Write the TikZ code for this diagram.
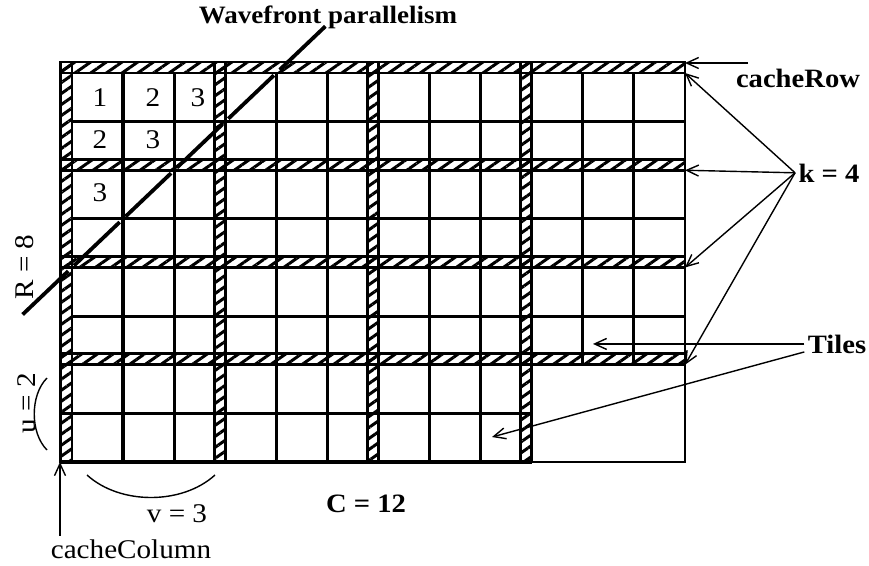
\documentclass[tikz,border=0pt]{standalone}
\usepackage{fontspec}
\setmainfont{Liberation Serif}[FakeStretch=1.08]
\usepackage{tikz}
\usetikzlibrary{arrows.meta,calc,patterns.meta}

\begin{document}
\begin{tikzpicture}[x=1pt, y=-1pt,
    gridline/.style={line width=3.2pt},
    hatchband/.style={draw, line width=2.6pt,
      pattern={Lines[angle=35,distance=9pt,line width=3pt]}},
    ptr/.style={-{Straight Barb[length=12pt,width=11pt]}, line width=1.4pt},
    lbl/.style={font=\fontsize{26.5}{30}\selectfont\bfseries},
    num/.style={font=\fontsize{27}{30}\selectfont},
    wavefront/.style={line width=3.8pt, dash pattern=on 63pt off 8pt}]
  \useasboundingbox (0,0) rectangle (869,565);
  \def\gx{72}  \def\gy{73}  \def\cw{51.08}  \def\rh{48.625}
  \def\gr{685} \def\gb{462}

  % outer frame
  \draw[line width=1.3pt] (60,62) rectangle (\gr,\gb);

  % cacheColumn / cacheRow bands
  \foreach \m in {0,...,3}
    \draw[hatchband] ({\gx+3*\m*\cw-11},62) rectangle ({\gx+3*\m*\cw},\gb);
  \foreach \n in {0,...,3} {
    \draw[hatchband] (60,{\gy+2*\n*\rh-11}) rectangle (\gr,{\gy+2*\n*\rh});
    \coordinate (kb\n) at (\gr,{\gy+2*\n*\rh});
  }

  % grid of C x R cells
  \foreach \i in {1,...,9}
    \draw[gridline] ({\gx+\i*\cw},\gy) -- ({\gx+\i*\cw},\gb);
  \foreach \i in {10,11}
    \draw[gridline] ({\gx+\i*\cw},\gy) -- ({\gx+\i*\cw},{\gy+6*\rh});
  \foreach \j in {1,...,6}
    \draw[gridline] (\gx,{\gy+\j*\rh}) -- (\gr,{\gy+\j*\rh});
  \foreach \j in {7,8}
    \draw[gridline] (60,{\gy+\j*\rh}) -- ({\gx+9*\cw},{\gy+\j*\rh});

  \coordinate (wA) at ({\gx+4*\cw},\gy);
  \coordinate (wB) at (\gx,{\gy+4*\rh});
  \coordinate (rowTail) at (748,63);
  \coordinate (rowEnd) at (\gr,63);
  \coordinate (colEnd) at (60,\gb);
  \coordinate (tileA) at (593,345);
  \coordinate (tileB) at (492,437);

  \draw[wavefront] ($(wA)!-0.24!(wB)$) -- ($(wB)!-0.245!(wA)$);

  % cell numbers
  \node[num] (c11) at (100,98) {1};
  \node[num] (c12) at (153,98) {2};
  \node[num] (c13) at (198,98) {3};
  \node[num] (c21) at (100,140) {2};
  \node[num] (c22) at (153,140) {3};
  \node[num] (c31) at (100,193) {3};

  % labels
  \node[lbl, font=\fontsize{25}{28}\selectfont\bfseries, anchor=base] (wave)
      at (328,23) {Wavefront parallelism};
  \node[lbl, anchor=base] (crow) at (798,87) {cacheRow};
  \node[lbl, anchor=base] (kfour) at (829,182) {k = 4};
  \node[lbl, anchor=base] (tiles) at (837,353) {Tiles};
  \node[lbl, anchor=base] (ccount) at (366,512) {C = 12};
  \node[num, anchor=base] (vlab) at (177,522) {v = 3};
  \node[num, anchor=base] (ccol) at (131,558) {cacheColumn};
  \node[num, rotate=90] (rlab) at (25,267) {R = 8};
  \node[num, rotate=90] (ulab) at (27,403) {u = 2};

  \draw[line width=1.4pt] (47,378) .. controls (30,395) and (30,433) .. (47,450);
  \draw[line width=1.4pt] (87,475) .. controls (120,505) and (182,505) .. (215,475);

  \draw[ptr] (rowTail) -- (rowEnd);
  \draw[ptr] (ccol.north -| colEnd) -- (colEnd);
  \foreach \n in {0,...,3}
    \draw[ptr] (kfour.west) -- (kb\n);
  \draw[ptr] (tiles.west) -- (tiles.west -| tileA);
  \draw[ptr] ([yshift=-8pt]tiles.west) -- (tileB);
\end{tikzpicture}
\end{document}
